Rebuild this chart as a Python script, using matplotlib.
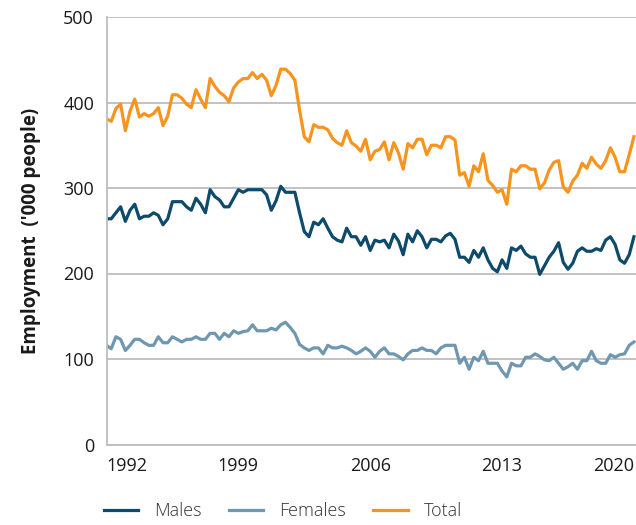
import numpy as np
from matplotlib import pyplot as plt

# quarterly employment, '000 people, 1992 to 2020
males = [264,264,271,278,261,274,281,264,267,267,271,268,257,264,284,284,284,278,
         274,288,281,271,298,290,286,278,278,288,298,295,298,298,298,298,292,274,
         285,
         302,295,295,295,271,249,243,260,257,264,253,243,239,237,253,243,243,233,
         243,227,239,237,239,230,246,238,222,246,237,250,243,230,240,240,237,244,247,
         240,219,219,213,227,219,230,216,206,202,216,206,230,227,232,223,219,219,199,
         209,219,226,236,213,205,212,226,230,226,226,229,227,239,243,234,216,212,222,243]
females = [116,112,126,123,110,116,123,123,119,116,116,126,119,119,126,123,120,123,
           123,126,123,123,130,130,123,130,126,133,130,132,133,140,133,133,133,136,
           134,
           140,143,137,130,117,113,110,113,113,106,116,113,113,115,113,110,106,109,
           113,109,102,109,113,106,106,103,99,106,110,110,113,110,110,106,113,116,116,
           116,95,102,88,102,98,109,95,95,95,86,79,95,92,92,102,102,106,103,99,98,102,
           95,88,91,95,88,98,98,109,98,95,95,105,102,105,106,116,120]
total = [381,378,393,398,367,390,404,383,387,384,387,394,373,384,409,409,405,398,
         394,415,404,394,428,419,412,408,401,417,424,428,428,435,428,433,426,408,
         420,
         439,439,434,426,391,360,354,374,371,371,368,358,353,350,367,353,349,343,
         357,333,343,345,354,333,353,341,322,352,347,357,357,339,350,350,347,360,360,
         356,315,318,302,326,319,340,309,303,295,298,281,322,319,326,326,322,322,299,
         306,321,330,332,301,295,308,315,329,323,336,328,323,332,347,336,319,319,339,360]
tick_years = [1992, 1999, 2006, 2013, 2020]

t = 1992 + np.arange(len(total)) / 4

plt.rcParams['font.family'] = ['Open Sans', 'DejaVu Sans']

fig = plt.figure(figsize=(6.36, 5.25), dpi=100)
ax = fig.add_axes([106.5/636, 80.5/525, 1 - 106.5/636, 427.5/525])

ax.plot(t, males, color='#0d4a6c', lw=2.3, label='Males')
ax.plot(t, females, color='#6f98b0', lw=2.3, label='Females')
ax.plot(t, total, color='#f7941d', lw=2.3, label='Total')

ax.set_xlim(1992, 2020.11)
ax.set_ylim(0, 500)
ax.set_yticks(range(0, 501, 100))
ax.set_xticks(tick_years)
ax.set_xticklabels([str(y) for y in tick_years])
lbls = ax.get_xticklabels()
lbls[0].set_ha('left')
lbls[-1].set_ha('right')

ax.grid(axis='y', color='#bdbdbd', linewidth=1.3)
ax.set_axisbelow(True)
for s in ['top', 'right']:
    ax.spines[s].set_visible(False)
for s in ['left', 'bottom']:
    ax.spines[s].set_color('#bdbdbd')
    ax.spines[s].set_linewidth(1.3)
ax.tick_params(length=0, labelsize=13, colors='#1a1a1a', pad=9)
ax.tick_params(axis='x', pad=9)

ax.set_ylabel("Employment  ('000 people)", fontsize=13.5, fontweight='bold',
              color='#1a1a1a', labelpad=16)

leg = fig.legend(loc='lower center', bbox_to_anchor=(0.445, -0.022), ncol=3,
                 frameon=False, fontsize=13, handlelength=1.9, handletextpad=0.9,
                 columnspacing=1.5)
for txt in leg.get_texts():
    txt.set_fontweight('light')
    txt.set_color('#333333')

fig.savefig('out.png', dpi=100)
